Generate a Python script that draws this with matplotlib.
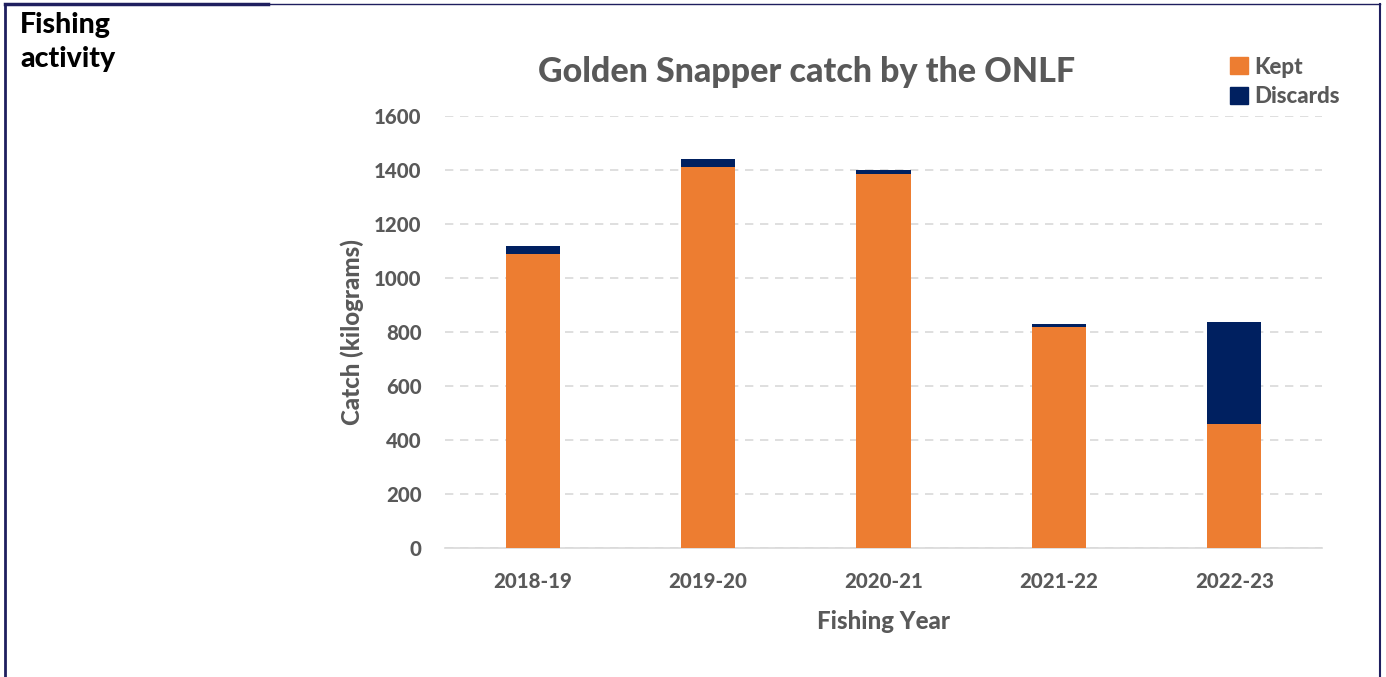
import numpy as np
import matplotlib.pyplot as plt
from matplotlib.lines import Line2D
from matplotlib.patches import Patch

years = ['2018-19', '2019-20', '2020-21', '2021-22', '2022-23']
kept = [1090, 1410, 1384, 817, 458]
discards = [28, 30, 17, 11, 378]
yticks = [0, 200, 400, 600, 800, 1000, 1200, 1400, 1600]

ORANGE = '#ed7d31'
NAVY = '#002060'
GRAY = '#595959'
FONT = ['Lato', 'DejaVu Sans']
W = 'black'

plt.rcParams['font.family'] = FONT

fig = plt.figure(figsize=(13.86, 6.77), dpi=100)

# page frame
fig.add_artist(Line2D([5 / 1386, 5 / 1386], [0, 1 - 4 / 677], color='#1f1f5f', lw=2))
fig.add_artist(Line2D([5 / 1386, 268 / 1386], [1 - 4 / 677, 1 - 4 / 677], color='#1f1f5f', lw=2.5))
fig.add_artist(Line2D([268 / 1386, 1380 / 1386], [1 - 4 / 677, 1 - 4 / 677], color='#1f1f5f', lw=1))
fig.add_artist(Line2D([1380 / 1386, 1380 / 1386], [0, 1 - 4 / 677], color='#1f1f5f', lw=1.5))

fig.text(20 / 1386, 1 - 42 / 677, 'Fishing\nactivity', fontsize=20.5, fontweight=W,
         va='center', ha='left', linespacing=1.38, color='black')

ax = fig.add_axes([445 / 1386, 1 - 548 / 677, 877 / 1386, 432 / 677])
x = np.arange(len(years))
ax.bar(x, kept, width=0.31, color=ORANGE, label='Kept', zorder=3)
ax.bar(x, discards, width=0.31, bottom=kept, color=NAVY, label='Discards', zorder=3)

ax.set_xlim(-0.5, len(years) - 0.5)
ax.set_ylim(0, 1600)
ax.set_yticks(yticks)
ax.set_xticks(x)
ax.set_xticklabels(years)
ax.yaxis.grid(True, color='#d9d9d9', ls=(0, (5, 4)), lw=1.2, zorder=0)
for s in ['top', 'right', 'left']:
    ax.spines[s].set_visible(False)
ax.spines['bottom'].set_color('#d9d9d9')
ax.spines['bottom'].set_linewidth(1.2)
ax.tick_params(axis='both', length=0, labelsize=14.7, labelcolor=GRAY)
ax.tick_params(axis='x', pad=17)
ax.tick_params(axis='y', pad=17)
for lab in ax.get_xticklabels() + ax.get_yticklabels():
    lab.set_fontweight(W)

ax.set_xlabel('Fishing Year', fontsize=17.3, fontweight=W, color=GRAY, labelpad=14)
ax.set_ylabel('Catch (kilograms)', fontsize=17.3, fontweight=W, color=GRAY, labelpad=7)

fig.text(807 / 1386, 1 - 72 / 677, 'Golden Snapper catch by the ONLF', fontsize=24.5,
         fontweight=W, color=GRAY, ha='center', va='center')

handles = [Patch(color=ORANGE), Patch(color=NAVY)]
fig.legend(handles, ['Kept', 'Discards'], loc='center left',
           bbox_to_anchor=(1210 / 1386, 1 - 82 / 677), frameon=False,
           prop={'size': 16, 'weight': W}, labelcolor=GRAY,
           handlelength=0.8, handleheight=0.8, handletextpad=0.3, labelspacing=0.4)

fig.savefig('out.png', dpi=100)
